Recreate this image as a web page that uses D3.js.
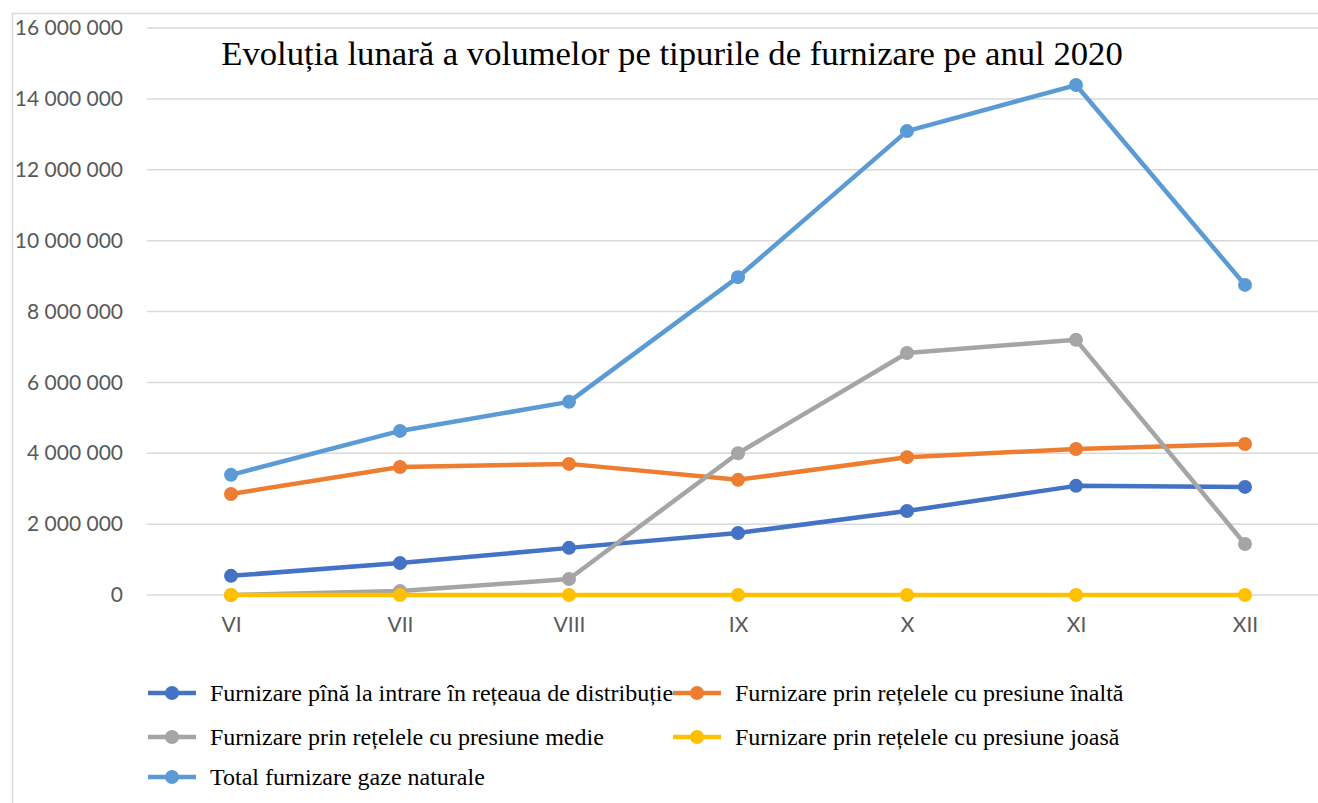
<!DOCTYPE html>
<html>
<head>
<meta charset="utf-8">
<script src="https://cdn.jsdelivr.net/npm/d3@7"></script>
<style>
  body { margin: 0; background: #fff; }
  svg { display: block; }
</style>
</head>
<body>
<svg id="chart" width="1318" height="803"></svg>
<script>
var months = ["VI", "VII", "VIII", "IX", "X", "XI", "XII"];
var yTicks = [0, 2000000, 4000000, 6000000, 8000000, 10000000, 12000000, 14000000, 16000000];

var pinaLaIntrare = [540000, 900000, 1330000, 1750000, 2370000, 3080000, 3050000];
var presiuneInalta = [2850000, 3610000, 3700000, 3250000, 3890000, 4120000, 4260000];
var presiuneMedie = [0, 110000, 450000, 4000000, 6830000, 7200000, 1440000];
var presiuneJoasa = [0, 0, 0, 0, 0, 0, 0];
var totalFurnizare = [3390000, 4630000, 5450000, 8970000, 13090000, 14390000, 8750000];

var seriesNames = [
    "Furnizare pînă la intrare în rețeaua de distribuție",
    "Furnizare prin rețelele cu presiune înaltă",
    "Furnizare prin rețelele cu presiune medie",
    "Furnizare prin rețelele cu presiune joasă",
    "Total furnizare gaze naturale"
];
var seriesColors = ["#4472C4", "#ED7D31", "#A5A5A5", "#FFC000", "#5B9BD5"];

var series = [pinaLaIntrare, presiuneInalta, presiuneMedie, presiuneJoasa, totalFurnizare]
    .map(function(vals, i){
        return {name: seriesNames[i], color: seriesColors[i], values: vals};
    });

var svg = d3.select("#chart");

// chart area border (cut by the picture on the right and bottom)
svg.append("rect")
    .attr("x", 12.5).attr("y", 13.5)
    .attr("width", 1400).attr("height", 900)
    .attr("fill", "none")
    .attr("stroke", "#d9d9d9")
    .attr("stroke-width", 1.5);

var x = d3.scalePoint()
    .domain(months)
    .range([231, 1245]);

var y = d3.scaleLinear()
    .domain([0, 16000000])
    .range([595, 28]);

var fmt = function(v){
    return d3.format(",")(v).replace(/,/g, " ");
};

// gridlines
svg.append("g")
    .selectAll("line")
    .data(yTicks)
    .enter()
    .append("line")
    .attr("x1", 147)
    .attr("x2", 1330)
    .attr("y1", function(d){ return y(d); })
    .attr("y2", function(d){ return y(d); })
    .attr("stroke", "#d9d9d9")
    .attr("stroke-width", 1.5);

// y axis labels
var yAxis = d3.axisLeft(y)
    .tickValues(yTicks)
    .tickFormat(fmt)
    .tickSize(0)
    .tickPadding(0);
var gy = svg.append("g")
    .attr("transform", "translate(123,0)")
    .call(yAxis);
gy.select(".domain").remove();
gy.selectAll("text")
    .attr("fill", "#595959")
    .style("font-family", "Lato, 'Open Sans', sans-serif")
    .style("font-size", "21px");

// x axis labels
var xAxis = d3.axisBottom(x).tickSize(0).tickPadding(0);
var gx = svg.append("g")
    .attr("transform", "translate(0,617)")
    .call(xAxis);
gx.select(".domain").remove();
gx.selectAll("text")
    .attr("fill", "#595959")
    .attr("dy", "0.71em")
    .style("font-family", "Lato, 'Open Sans', sans-serif")
    .style("font-size", "21px");

// title
svg.append("text")
    .attr("x", 672)
    .attr("y", 65)
    .attr("text-anchor", "middle")
    .style("font-family", "'Liberation Serif', 'Times New Roman', serif")
    .style("font-size", "34.7px")
    .attr("fill", "#000")
    .text("Evoluția lunară a volumelor pe tipurile de furnizare pe anul 2020");

// lines
var line = d3.line()
    .x(function(d, i){ return x(months[i]); })
    .y(function(d){ return y(d); });

var gs = svg.append("g")
    .selectAll("g")
    .data(series)
    .enter()
    .append("g");

gs.append("path")
    .attr("d", function(d){ return line(d.values); })
    .attr("fill", "none")
    .attr("stroke", function(d){ return d.color; })
    .attr("stroke-width", 4.5)
    .attr("stroke-linejoin", "round");

gs.selectAll("circle")
    .data(function(d){
        return d.values.map(function(v, i){ return {v: v, m: months[i], color: d.color}; });
    })
    .enter()
    .append("circle")
    .attr("cx", function(d){ return x(d.m); })
    .attr("cy", function(d){ return y(d.v); })
    .attr("r", 7)
    .attr("fill", function(d){ return d.color; });

// legend
var legendPos = [[148, 693], [673, 693], [148, 737], [673, 737], [148, 777]];
var lg = svg.append("g")
    .selectAll("g")
    .data(series)
    .enter()
    .append("g")
    .attr("transform", function(d, i){
        return "translate(" + legendPos[i][0] + "," + legendPos[i][1] + ")";
    });

lg.append("line")
    .attr("x1", 0).attr("x2", 48)
    .attr("y1", 0).attr("y2", 0)
    .attr("stroke", function(d){ return d.color; })
    .attr("stroke-width", 4.5);
lg.append("circle")
    .attr("cx", 24).attr("cy", 0).attr("r", 7)
    .attr("fill", function(d){ return d.color; });
lg.append("text")
    .attr("x", 62)
    .attr("y", 0)
    .attr("dy", "0.33em")
    .style("font-family", "'Liberation Serif', 'Times New Roman', serif")
    .style("font-size", "24px")
    .attr("fill", "#000")
    .text(function(d){ return d.name; });
</script>
</body>
</html>
